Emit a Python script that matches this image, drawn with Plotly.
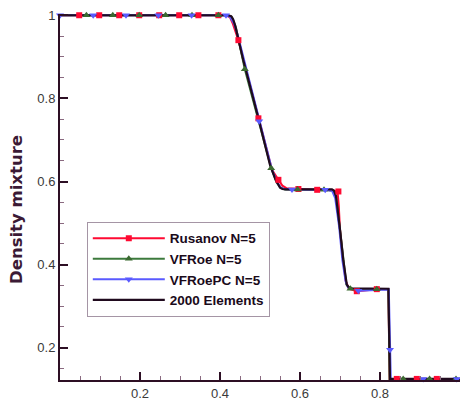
import plotly.graph_objects as go

# ---------------- data ----------------
# 2000 Elements (reference solution)
black_x = [0, 0.42, 0.428, 0.433, 0.438, 0.442, 0.458, 0.496, 0.525, 0.539, 0.545, 0.550, 0.556, 0.565,
           0.680, 0.685, 0.690, 0.695, 0.700, 0.708, 0.713, 0.717, 0.722, 0.730, 0.821, 0.8235, 0.825, 1.0]
black_y = [1, 1, 0.998, 0.99, 0.975, 0.958, 0.893, 0.752, 0.640, 0.604, 0.592, 0.585, 0.582, 0.581,
           0.581, 0.578, 0.565, 0.530, 0.484, 0.412, 0.370, 0.352, 0.345, 0.343, 0.342, 0.128, 0.125, 0.125]

# Rusanov N=5
rus_x = [0, 0.415, 0.425, 0.432, 0.446, 0.496, 0.530, 0.546, 0.556, 0.566, 0.596, 0.643, 0.683, 0.694,
         0.697, 0.700, 0.708, 0.714, 0.722, 0.742, 0.792, 0.821, 0.824, 0.842, 1.0]
rus_y = [1, 1, 0.995, 0.980, 0.940, 0.752, 0.628, 0.604, 0.590, 0.584, 0.582, 0.580, 0.579, 0.575,
         0.540, 0.484, 0.410, 0.362, 0.342, 0.336, 0.341, 0.341, 0.125, 0.125, 0.125]
rus_mx = [0.048, 0.098, 0.148, 0.198, 0.248, 0.298, 0.346, 0.396, 0.446, 0.496, 0.546, 0.596, 0.643,
          0.696, 0.742, 0.792, 0.842, 0.892, 0.942]
rus_my = [1, 1, 1, 1, 1, 1, 1, 1, 0.940, 0.752, 0.604, 0.582, 0.580, 0.576, 0.336, 0.341, 0.125, 0.125, 0.125]

# VFRoe N=5
vfr_x = [0, 0.420, 0.430, 0.440, 0.462, 0.528, 0.542, 0.552, 0.562, 0.594, 0.660, 0.682, 0.690, 0.700,
         0.708, 0.716, 0.726, 0.792, 0.821, 0.824, 0.858, 1.0]
vfr_y = [1, 1, 0.995, 0.970, 0.870, 0.632, 0.597, 0.585, 0.581, 0.581, 0.580, 0.578, 0.562, 0.484,
         0.410, 0.352, 0.342, 0.341, 0.341, 0.125, 0.125, 0.125]
vfr_mx = [0.066, 0.132, 0.198, 0.264, 0.330, 0.396, 0.462, 0.528, 0.594, 0.660, 0.726, 0.792, 0.858, 0.924, 0.990]
vfr_my = [1, 1, 1, 1, 1, 1, 0.870, 0.632, 0.581, 0.580, 0.342, 0.341, 0.125, 0.125, 0.125]

# VFRoePC N=5
vpc_x = [0, 0.415, 0.425, 0.435, 0.445, 0.460, 0.498, 0.530, 0.543, 0.552, 0.560, 0.580, 0.663, 0.680,
         0.688, 0.698, 0.706, 0.714, 0.720, 0.746, 0.822, 0.825, 0.827, 0.910, 1.0]
vpc_y = [1, 1, 0.996, 0.980, 0.950, 0.893, 0.745, 0.628, 0.598, 0.585, 0.582, 0.581, 0.580, 0.578,
         0.560, 0.490, 0.410, 0.360, 0.345, 0.337, 0.340, 0.195, 0.125, 0.125, 0.125]
vpc_mx = [0.0, 0.083, 0.165, 0.246, 0.329, 0.415, 0.498, 0.580, 0.663, 0.746, 0.825, 0.908, 0.992]
vpc_my = [1, 1, 1, 1, 1, 1, 0.745, 0.581, 0.580, 0.337, 0.195, 0.125, 0.125]

x_tick_vals = [0.2, 0.4, 0.6, 0.8]
x_tick_text = ["0.2", "0.4", "0.6", "0.8"]
y_tick_vals = [0.2, 0.4, 0.6, 0.8, 1.0]
y_tick_text = ["0.2", "0.4", "0.6", "0.8", "1"]

names = ["Rusanov N=5", "VFRoe N=5", "VFRoePC N=5", "2000 Elements"]
y_title = "Density mixture"

# ---------------- style ----------------
RED = "#ff0a32"
GREEN = "#3c7a3c"
GREEN_M = "#3b6a30"
BLUE = "#5a5aff"
BLACK = "#200a1e"
AXIS = "#2d0f24"

fig = go.Figure()

series = [
    (rus_x, rus_y, rus_mx, rus_my, RED, RED, "square", 6, names[0]),
    (vfr_x, vfr_y, vfr_mx, vfr_my, GREEN, GREEN_M, "triangle-up", 7, names[1]),
    (vpc_x, vpc_y, vpc_mx, vpc_my, BLUE, BLUE, "triangle-down", 7, names[2]),
]

# lines
for i, (lx, ly, mx, my, lc, mc, sym, ms, nm) in enumerate(series):
    fig.add_trace(go.Scatter(x=lx, y=ly, mode="lines", line=dict(color=lc, width=2),
                             showlegend=False, hoverinfo="skip"))
fig.add_trace(go.Scatter(x=black_x, y=black_y, mode="lines", name=names[3],
                         line=dict(color=BLACK, width=2.2), legendrank=4))
# markers + legend entries
for i, (lx, ly, mx, my, lc, mc, sym, ms, nm) in enumerate(series):
    fig.add_trace(go.Scatter(x=mx, y=my, mode="markers", cliponaxis=False,
                             marker=dict(symbol=sym, size=ms, color=mc, line=dict(width=0)),
                             showlegend=False, hoverinfo="skip"))
    fig.add_trace(go.Scatter(x=[None], y=[None], mode="lines+markers", name=nm,
                             line=dict(color=lc, width=2),
                             marker=dict(symbol=sym, size=ms, color=mc, line=dict(width=0)),
                             legendrank=i + 1))

tickfont = dict(family="Liberation Sans, Arial, sans-serif", size=13, color="#3a3a3a")

fig.update_layout(
    width=460, height=405,
    margin=dict(l=60, r=0, t=14, b=25),
    paper_bgcolor="white", plot_bgcolor="white",
    showlegend=True,
    legend=dict(
        x=0.067, y=0.432, xanchor="left", yanchor="top",
        bgcolor="white", bordercolor="#a595a5", borderwidth=1,
        font=dict(family="Liberation Sans, Arial, sans-serif", size=13.5, color="#1a0a1a", weight="bold"),
        itemwidth=72, tracegroupgap=0,
    ),
    xaxis=dict(
        range=[0, 1.0], showgrid=False, zeroline=False,
        showline=True, linecolor=AXIS, linewidth=2,
        tickmode="array", tickvals=x_tick_vals, ticktext=x_tick_text,
        ticks="inside", ticklen=8, tickwidth=2, tickcolor=AXIS,
        tickfont=tickfont,
        minor=dict(dtick=0.05, tick0=0, ticks="inside", ticklen=4, tickwidth=1, tickcolor="#8a6a80"),
    ),
    yaxis=dict(
        range=[0.1224, 1.003], showgrid=False, zeroline=False,
        showline=True, linecolor=AXIS, linewidth=2,
        tickmode="array", tickvals=y_tick_vals, ticktext=y_tick_text,
        ticks="inside", ticklen=8, tickwidth=2, tickcolor=AXIS,
        tickfont=tickfont,
        minor=dict(dtick=0.05, tick0=0, ticks="inside", ticklen=4, tickwidth=1, tickcolor="#8a6a80"),
    ),
    annotations=[dict(
        text=y_title, textangle=-90, showarrow=False,
        xref="paper", yref="paper", x=-0.1075, y=0.4645, xanchor="center", yanchor="middle",
        font=dict(family="DejaVu Sans, sans-serif", size=16.5, color="#3b1a35", weight="bold"),
    )],
)

fig.write_html("out.html")
